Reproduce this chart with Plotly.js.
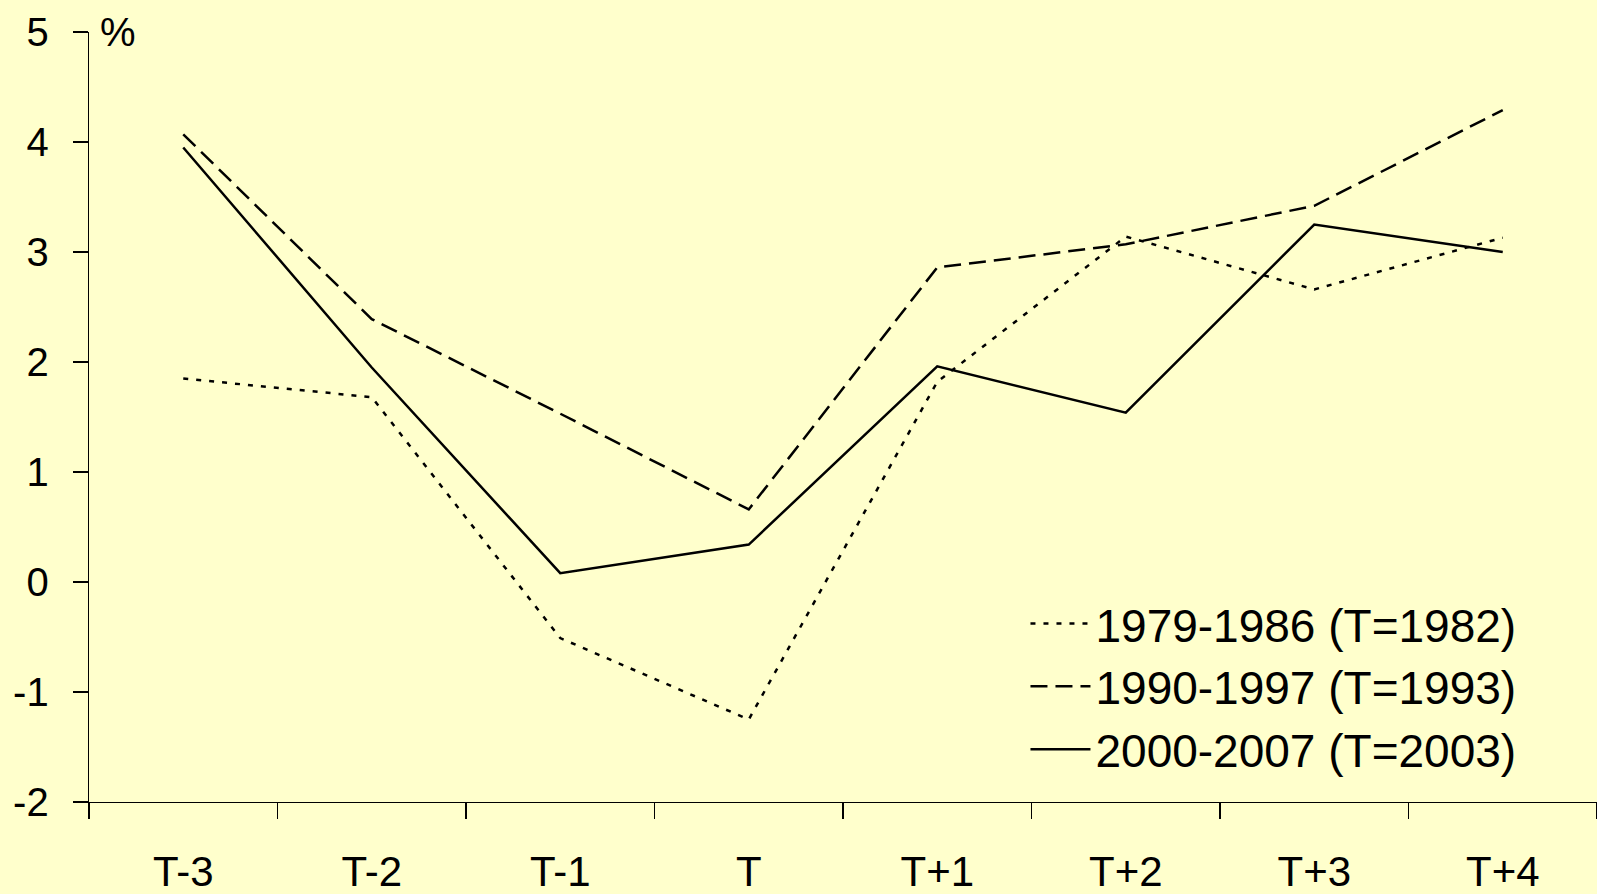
<!DOCTYPE html>
<html>
<head>
<meta charset="utf-8">
<script src="https://cdn.plot.ly/plotly-3.0.1.min.js"></script>
<style>html,body{margin:0;padding:0;background:#FFFFCC;}#chart{width:1597px;height:894px;}</style>
</head>
<body>
<div id="chart"></div>
<script>
const categories = ["T-3", "T-2", "T-1", "T", "T+1", "T+2", "T+3", "T+4"];
const series1Name = "1979-1986 (T=1982)";
const series1 = [1.85, 1.68, -0.51, -1.25, 1.82, 3.14, 2.66, 3.13];
const series2Name = "1990-1997 (T=1993)";
const series2 = [4.07, 2.39, 1.53, 0.66, 2.86, 3.07, 3.42, 4.29];
const series3Name = "2000-2007 (T=2003)";
const series3 = [3.95, 1.95, 0.08, 0.34, 1.96, 1.54, 3.25, 3.00];
const yTicks = [-2, -1, 0, 1, 2, 3, 4, 5];
const yTickLabels = ["-2", "-1", "0", "1", "2", "3", "4", "5"];

const font = "Arial, 'Liberation Sans', sans-serif";
const traces = [
  {x: categories, y: series1, name: series1Name, type: "scatter", mode: "lines",
   line: {color: "#000", width: 2.5, dash: "5px,8px"}},
  {x: categories, y: series2, name: series2Name, type: "scatter", mode: "lines",
   line: {color: "#000", width: 2.5, dash: "17px,8px"}},
  {x: categories, y: series3, name: series3Name, type: "scatter", mode: "lines",
   line: {color: "#000", width: 2.5}}
];

const layout = {
  width: 1597, height: 894,
  paper_bgcolor: "#FFFFCC", plot_bgcolor: "#FFFFCC",
  margin: {l: 89, r: 0, t: 32, b: 92},
  font: {family: font, color: "#000"},
  showlegend: true,
  legend: {x: 0.621, y: 0.279, xanchor: "left", yanchor: "top", bgcolor: "rgba(0,0,0,0)",
           font: {size: 46, family: font, color: "#000"}, tracegroupgap: 0, itemwidth: 60},
  xaxis: {type: "category", range: [-0.5, 7.5], tickson: "boundaries", ticks: "outside",
          ticklen: 16, tickwidth: 1.3, tickcolor: "#000", showline: true, linecolor: "#000",
          linewidth: 1.3, showgrid: false, zeroline: false, ticklabelstandoff: 32,
          tickfont: {size: 42, family: font, color: "#000"}},
  yaxis: {range: [-2, 5], tickvals: yTicks, ticktext: yTickLabels, ticks: "outside", ticklen: 15, tickwidth: 1.3,
          tickcolor: "#000", showline: true, linecolor: "#000", linewidth: 1.3,
          showgrid: false, zeroline: false, ticklabelstandoff: 16,
          tickfont: {size: 40, family: font, color: "#000"}},
  annotations: [{text: "%", xref: "paper", yref: "paper", x: 0.006, y: 1.0, xanchor: "left",
                 yanchor: "middle", showarrow: false, font: {size: 40, family: font, color: "#000"}}]
};

Plotly.newPlot("chart", traces, layout, {displayModeBar: false, staticPlot: true});
</script>
</body>
</html>
